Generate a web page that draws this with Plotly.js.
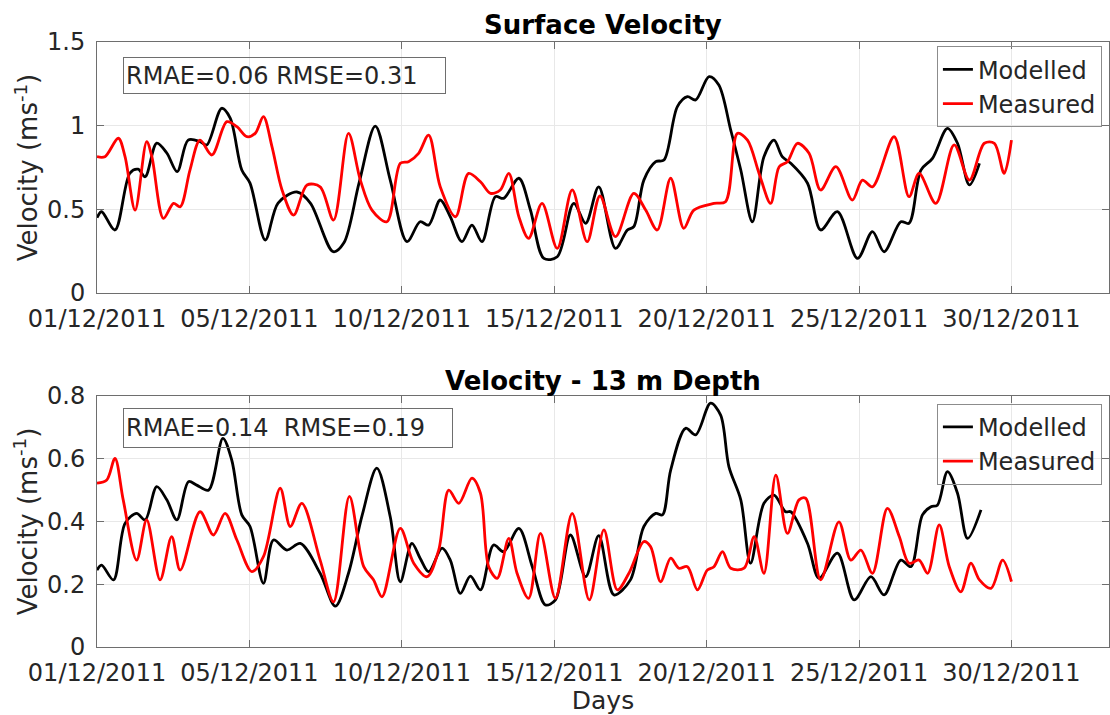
<!DOCTYPE html>
<html>
<head>
<meta charset="utf-8">
<script src="https://cdn.plot.ly/plotly-3.0.1.min.js"></script>
<style>
  html, body { margin: 0; padding: 0; background: #ffffff; }
  #chart { width: 1110px; height: 715px; }
</style>
</head>
<body>
<div id="chart"></div>
<script>
// Day offsets from 01/12/2011 and velocities (m/s)
const surfModelDays = [0, 0.15, 0.59, 1.08, 1.35, 1.58, 1.96, 2.29, 2.63, 2.99, 3.38, 3.6, 4.09, 4.37, 4.75, 5.02, 5.52, 5.94, 6.56, 7.0, 7.75, 8.1, 8.6, 9.13, 9.62, 10.17, 10.6, 10.88, 11.26, 11.59, 11.97, 12.3, 12.63, 13.07, 13.34, 13.84, 14.22, 14.66, 15.1, 15.64, 16.03, 16.46, 17.01, 17.4, 17.61, 17.94, 18.33, 18.6, 19.04, 19.37, 19.64, 20.08, 20.4, 20.79, 21.12, 21.5, 21.88, 22.21, 22.48, 22.76, 23.31, 23.74, 24.29, 24.95, 25.44, 25.82, 26.37, 26.64, 27.03, 27.41, 27.9, 28.23, 28.62, 28.95];
const surfModelVals = [0.45, 0.486, 0.377, 0.717, 0.74, 0.695, 0.896, 0.837, 0.725, 0.914, 0.905, 0.885, 1.104, 1.045, 0.735, 0.657, 0.317, 0.538, 0.604, 0.538, 0.247, 0.3, 0.66, 0.998, 0.675, 0.307, 0.426, 0.406, 0.556, 0.456, 0.307, 0.406, 0.307, 0.576, 0.566, 0.686, 0.496, 0.207, 0.217, 0.536, 0.417, 0.635, 0.267, 0.377, 0.397, 0.675, 0.785, 0.795, 1.114, 1.173, 1.154, 1.293, 1.243, 0.974, 0.735, 0.426, 0.815, 0.914, 0.815, 0.775, 0.656, 0.377, 0.486, 0.207, 0.367, 0.247, 0.426, 0.417, 0.735, 0.805, 0.984, 0.895, 0.646, 0.775];

const surfMeasDays = [0, 0.26, 0.7, 0.92, 1.25, 1.63, 1.8, 2.18, 2.51, 2.73, 3.05, 3.38, 3.77, 4.26, 4.59, 4.92, 5.19, 5.46, 5.74, 6.07, 6.45, 6.89, 7.32, 7.76, 8.25, 8.64, 9.02, 9.51, 9.95, 10.22, 10.55, 10.88, 11.26, 11.76, 12.19, 12.58, 12.91, 13.23, 13.51, 13.84, 14.16, 14.6, 15.1, 15.59, 16.08, 16.5, 17.01, 17.61, 18.0, 18.38, 18.82, 19.25, 19.58, 20.24, 20.62, 21.01, 21.34, 21.72, 22.1, 22.38, 22.65, 22.98, 23.36, 23.74, 24.24, 24.78, 25.11, 25.44, 26.15, 26.64, 26.97, 27.52, 28.12, 28.62, 29.11, 29.44, 29.76, 30.0];
const surfMeasVals = [0.815, 0.815, 0.925, 0.815, 0.496, 0.905, 0.815, 0.446, 0.536, 0.516, 0.735, 0.914, 0.825, 1.024, 0.994, 0.934, 0.954, 1.054, 0.875, 0.616, 0.466, 0.646, 0.635, 0.436, 0.954, 0.675, 0.496, 0.426, 0.775, 0.785, 0.835, 0.944, 0.635, 0.456, 0.715, 0.665, 0.596, 0.616, 0.715, 0.456, 0.327, 0.536, 0.267, 0.616, 0.307, 0.58, 0.337, 0.596, 0.496, 0.377, 0.686, 0.387, 0.496, 0.536, 0.546, 0.954, 0.914, 0.715, 0.536, 0.755, 0.785, 0.895, 0.835, 0.616, 0.755, 0.556, 0.675, 0.635, 0.934, 0.576, 0.715, 0.536, 0.885, 0.675, 0.895, 0.895, 0.715, 0.914];

const deepModelDays = [0, 0.15, 0.54, 0.92, 1.3, 1.58, 1.96, 2.29, 2.62, 3.0, 3.27, 3.66, 4.13, 4.42, 4.75, 5.02, 5.46, 5.79, 6.23, 6.67, 7.32, 7.82, 8.25, 8.7, 9.18, 9.62, 9.95, 10.33, 10.6, 10.88, 11.32, 11.59, 11.92, 12.25, 12.58, 13.01, 13.34, 13.84, 14.28, 14.71, 15.04, 15.53, 16.03, 16.46, 16.96, 17.5, 17.94, 18.33, 18.55, 18.82, 19.31, 19.64, 20.13, 20.46, 20.73, 21.12, 21.44, 21.88, 22.21, 22.59, 22.76, 23.31, 23.69, 24.29, 24.84, 25.39, 25.82, 26.37, 26.7, 27.08, 27.36, 27.57, 27.9, 28.23, 28.56, 29.0];
const deepModelVals = [0.245, 0.261, 0.214, 0.394, 0.426, 0.405, 0.511, 0.469, 0.405, 0.527, 0.516, 0.5, 0.665, 0.596, 0.421, 0.384, 0.203, 0.341, 0.309, 0.33, 0.235, 0.13, 0.235, 0.42, 0.57, 0.415, 0.208, 0.33, 0.283, 0.24, 0.315, 0.277, 0.171, 0.226, 0.182, 0.325, 0.304, 0.378, 0.256, 0.134, 0.15, 0.357, 0.224, 0.355, 0.166, 0.214, 0.384, 0.426, 0.421, 0.564, 0.697, 0.676, 0.777, 0.739, 0.575, 0.469, 0.267, 0.458, 0.484, 0.431, 0.431, 0.33, 0.219, 0.299, 0.15, 0.224, 0.166, 0.277, 0.256, 0.421, 0.447, 0.452, 0.559, 0.49, 0.346, 0.437];

const deepMeasDays = [0, 0.32, 0.59, 0.86, 1.3, 1.63, 2.07, 2.45, 2.73, 3.38, 3.82, 4.2, 4.59, 5.08, 5.46, 6.01, 6.34, 6.72, 7.32, 7.76, 8.28, 8.75, 9.07, 9.35, 9.95, 10.39, 10.83, 11.21, 11.54, 11.87, 12.3, 12.58, 12.85, 13.13, 13.51, 13.78, 14.16, 14.55, 15.04, 15.59, 16.15, 16.63, 17.07, 17.45, 17.94, 18.16, 18.49, 18.82, 19.09, 19.37, 19.7, 20.02, 20.24, 20.52, 20.79, 21.23, 21.56, 21.88, 22.27, 22.65, 23.03, 23.25, 23.74, 24.34, 24.73, 25.06, 25.44, 25.93, 26.32, 26.64, 26.97, 27.25, 27.63, 27.96, 28.34, 28.67, 28.95, 29.33, 29.71, 30.0];
const deepMeasVals = [0.522, 0.532, 0.601, 0.469, 0.277, 0.405, 0.214, 0.352, 0.245, 0.431, 0.357, 0.426, 0.341, 0.24, 0.288, 0.506, 0.384, 0.458, 0.277, 0.144, 0.48, 0.256, 0.214, 0.16, 0.378, 0.267, 0.224, 0.309, 0.5, 0.458, 0.538, 0.49, 0.256, 0.219, 0.346, 0.235, 0.155, 0.362, 0.155, 0.426, 0.15, 0.373, 0.182, 0.235, 0.336, 0.32, 0.208, 0.283, 0.251, 0.256, 0.182, 0.245, 0.256, 0.304, 0.251, 0.251, 0.352, 0.235, 0.548, 0.362, 0.469, 0.474, 0.214, 0.399, 0.277, 0.309, 0.235, 0.442, 0.352, 0.267, 0.277, 0.235, 0.389, 0.256, 0.176, 0.267, 0.214, 0.187, 0.277, 0.208];

const dayTicks = [0, 5, 10, 15, 20, 25, 30];
const dayTickText = ['01/12/2011', '05/12/2011', '10/12/2011', '15/12/2011', '20/12/2011', '25/12/2011', '30/12/2011'];
const surfTicks = [0, 0.5, 1, 1.5];
const surfTickText = ['0', '0.5', '1', '1.5'];
const deepTicks = [0, 0.2, 0.4, 0.6, 0.8];
const deepTickText = ['0', '0.2', '0.4', '0.6', '0.8'];

const FONT = 'DejaVu Sans, sans-serif';
const TXT = '#262626';
const AXIS = '#6e6e6e';
const CLEAR = 'rgba(255,255,255,0)';

function line(x, y, name, color, xa, ya, leg) {
  return {
    x: x, y: y, name: name, type: 'scatter', mode: 'lines',
    line: { color: color, width: 2.8, shape: 'spline', smoothing: 0.9 },
    xaxis: xa, yaxis: ya, legend: leg, hoverinfo: 'skip'
  };
}

const data = [
  line(surfModelDays, surfModelVals, 'Modelled', '#000000', 'x', 'y', 'legend'),
  line(surfMeasDays, surfMeasVals, 'Measured', '#ff0000', 'x', 'y', 'legend'),
  line(deepModelDays, deepModelVals, 'Modelled', '#000000', 'x2', 'y2', 'legend2'),
  line(deepMeasDays, deepMeasVals, 'Measured', '#ff0000', 'x2', 'y2', 'legend2')
];

function xAxis(anchor, showTitle) {
  const ax = {
    domain: [0, 1], anchor: anchor, range: [0, 33.2],
    tickmode: 'array', tickvals: dayTicks, ticktext: dayTickText,
    ticks: 'inside', ticklen: 7, tickcolor: AXIS, tickwidth: 1,
    showline: true, linecolor: AXIS, linewidth: 1, mirror: 'ticks',
    showgrid: true, gridcolor: '#e8e8e8', gridwidth: 1, zeroline: false,
    tickfont: { family: FONT, size: 24, color: TXT },
    ticklabelstandoff: 4
  };
  if (showTitle) {
    ax.title = { text: 'Days', font: { family: FONT, size: 25, color: TXT }, standoff: 2 };
  }
  return ax;
}

function yAxis(anchor, domain, range, vals, text) {
  return {
    domain: domain, anchor: anchor, range: range,
    tickmode: 'array', tickvals: vals, ticktext: text,
    ticks: 'inside', ticklen: 7, tickcolor: AXIS, tickwidth: 1,
    showline: true, linecolor: AXIS, linewidth: 1, mirror: 'ticks',
    showgrid: true, gridcolor: '#e8e8e8', gridwidth: 1, zeroline: false,
    tickfont: { family: FONT, size: 24, color: TXT },
    ticklabelstandoff: 6,
    title: { text: 'Velocity (ms<sup>-1</sup>)', font: { family: FONT, size: 26, color: TXT }, standoff: 1 }
  };
}

function legendBox(yTop) {
  return {
    x: 0.993, xanchor: 'right', y: yTop, yanchor: 'top',
    xref: 'paper', yref: 'paper',
    bgcolor: CLEAR, bordercolor: '#8c8c8c', borderwidth: 1,
    font: { family: FONT, size: 24, color: TXT },
    itemwidth: 30, tracegroupgap: 0
  };
}

function statBox(yTop, text, w, h) {
  return {
    xref: 'paper', yref: 'paper', x: 0.0257, y: yTop,
    xanchor: 'left', yanchor: 'top', showarrow: false,
    text: text, align: 'left', valign: 'middle', width: w, height: h,
    font: { family: FONT, size: 24, color: TXT },
    bgcolor: CLEAR, bordercolor: '#6e6e6e', borderwidth: 1, borderpad: 2
  };
}

function titleNote(y, text) {
  return {
    xref: 'paper', yref: 'paper', x: 0.5, y: y, xanchor: 'center', yanchor: 'bottom',
    showarrow: false, text: '<b>' + text + '</b>',
    font: { family: FONT, size: 26, color: '#000000' }
  };
}

const layout = {
  width: 1110, height: 715,
  margin: { l: 97, r: 1, t: 42, b: 68 },
  paper_bgcolor: '#ffffff', plot_bgcolor: '#ffffff',
  showlegend: true,
  xaxis: xAxis('y', false),
  yaxis: yAxis('x', [0.585, 1], [0, 1.5], surfTicks, surfTickText),
  xaxis2: xAxis('y2', true),
  yaxis2: yAxis('x2', [0, 0.4149], [0, 0.8], deepTicks, deepTickText),
  legend: legendBox(0.993),
  legend2: legendBox(0.402),
  annotations: [
    statBox(0.975, 'RMAE=0.06 RMSE=0.31', 317, 31),
    statBox(0.395, 'RMAE=0.14\u00a0 RMSE=0.19', 324, 34),
    titleNote(1.0, 'Surface Velocity'),
    titleNote(0.412, 'Velocity - 13 m Depth')
  ]
};

Plotly.newPlot('chart', data, layout, { displayModeBar: false, staticPlot: true });
</script>
</body>
</html>
